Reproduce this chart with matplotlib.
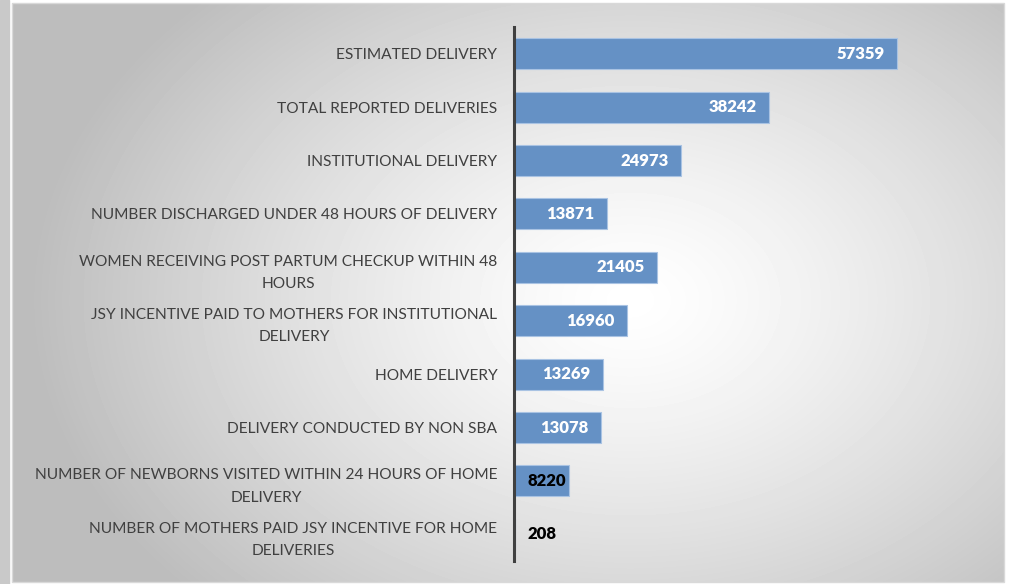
import numpy as np
import matplotlib.pyplot as plt
from matplotlib.patches import Rectangle

categories = [
    "ESTIMATED DELIVERY",
    "TOTAL REPORTED DELIVERIES",
    "INSTITUTIONAL DELIVERY",
    "NUMBER DISCHARGED UNDER 48 HOURS OF DELIVERY",
    "WOMEN RECEIVING POST PARTUM CHECKUP WITHIN 48\nHOURS",
    "JSY INCENTIVE PAID TO MOTHERS FOR INSTITUTIONAL\nDELIVERY",
    "HOME DELIVERY",
    "DELIVERY CONDUCTED BY NON SBA",
    "NUMBER OF NEWBORNS VISITED WITHIN 24 HOURS OF HOME\nDELIVERY",
    "NUMBER OF MOTHERS PAID JSY INCENTIVE FOR HOME\nDELIVERIES",
]
values = [57359, 38242, 24973, 13871, 21405, 16960, 13269, 13078, 8220, 208]

W, H = 1009, 584
fig = plt.figure(figsize=(W / 100, H / 100), dpi=100)

# background: grey strip + radial gradient panel
bg = fig.add_axes([0, 0, 1, 1])
bg.set_xlim(0, W)
bg.set_ylim(H, 0)
bg.axis('off')
bg.add_patch(Rectangle((0, 0), 9, H, color='#c9c9c9'))
yy, xx = np.mgrid[3:582, 12:1004]
d = np.sqrt(((xx - 630) / 600.0) ** 2 + ((yy - 300) / 430.0) ** 2)
shade = 1 - 0.26 * np.clip(d, 0, 1) ** 1.3
bg.imshow(shade, cmap='gray', vmin=0, vmax=1, extent=(12, 1004, 582, 3),
          aspect='auto', interpolation='bilinear')
bg.add_patch(Rectangle((12, 3), 992, 579, fill=False, edgecolor='#d9d9d9', lw=1))

left, right, top, bottom = 514, 1000, 27, 561
ax = fig.add_axes([left / W, 1 - bottom / H, (right - left) / W, (bottom - top) / H])
ax.patch.set_alpha(0)

y = np.arange(len(categories))
ax.barh(y, values, height=0.58, color='#6591c5', edgecolor='#a9c3e3', linewidth=0.8)
ax.set_xlim(0, (right - left) / 383 * 57359)
ax.set_ylim(len(categories) - 0.5, -0.5)

for s in ['top', 'right', 'bottom']:
    ax.spines[s].set_visible(False)
ax.spines['left'].set_color('#404040')
ax.spines['left'].set_linewidth(2.2)
ax.set_xticks([])
ax.set_yticks(y)
ax.set_yticklabels(categories, multialignment='center', fontsize=11.2,
                   color='#404040', family=['Lato', 'DejaVu Sans'], linespacing=1.75)
ax.tick_params(axis='y', length=0, pad=12)

for i, v in enumerate(values):
    if v > 10000:
        ax.annotate(str(v), (v, i), xytext=(-9, 0), textcoords='offset points',
                    ha='right', va='center', color='white', fontsize=12,
                    fontweight='heavy', family=['Lato', 'DejaVu Sans'])
    else:
        ax.annotate(str(v), (0, i), xytext=(9.5, 0), textcoords='offset points',
                    ha='left', va='center', color='black', fontsize=12,
                    fontweight='heavy', family=['Lato', 'DejaVu Sans'])

fig.savefig('out.png', dpi=100)
